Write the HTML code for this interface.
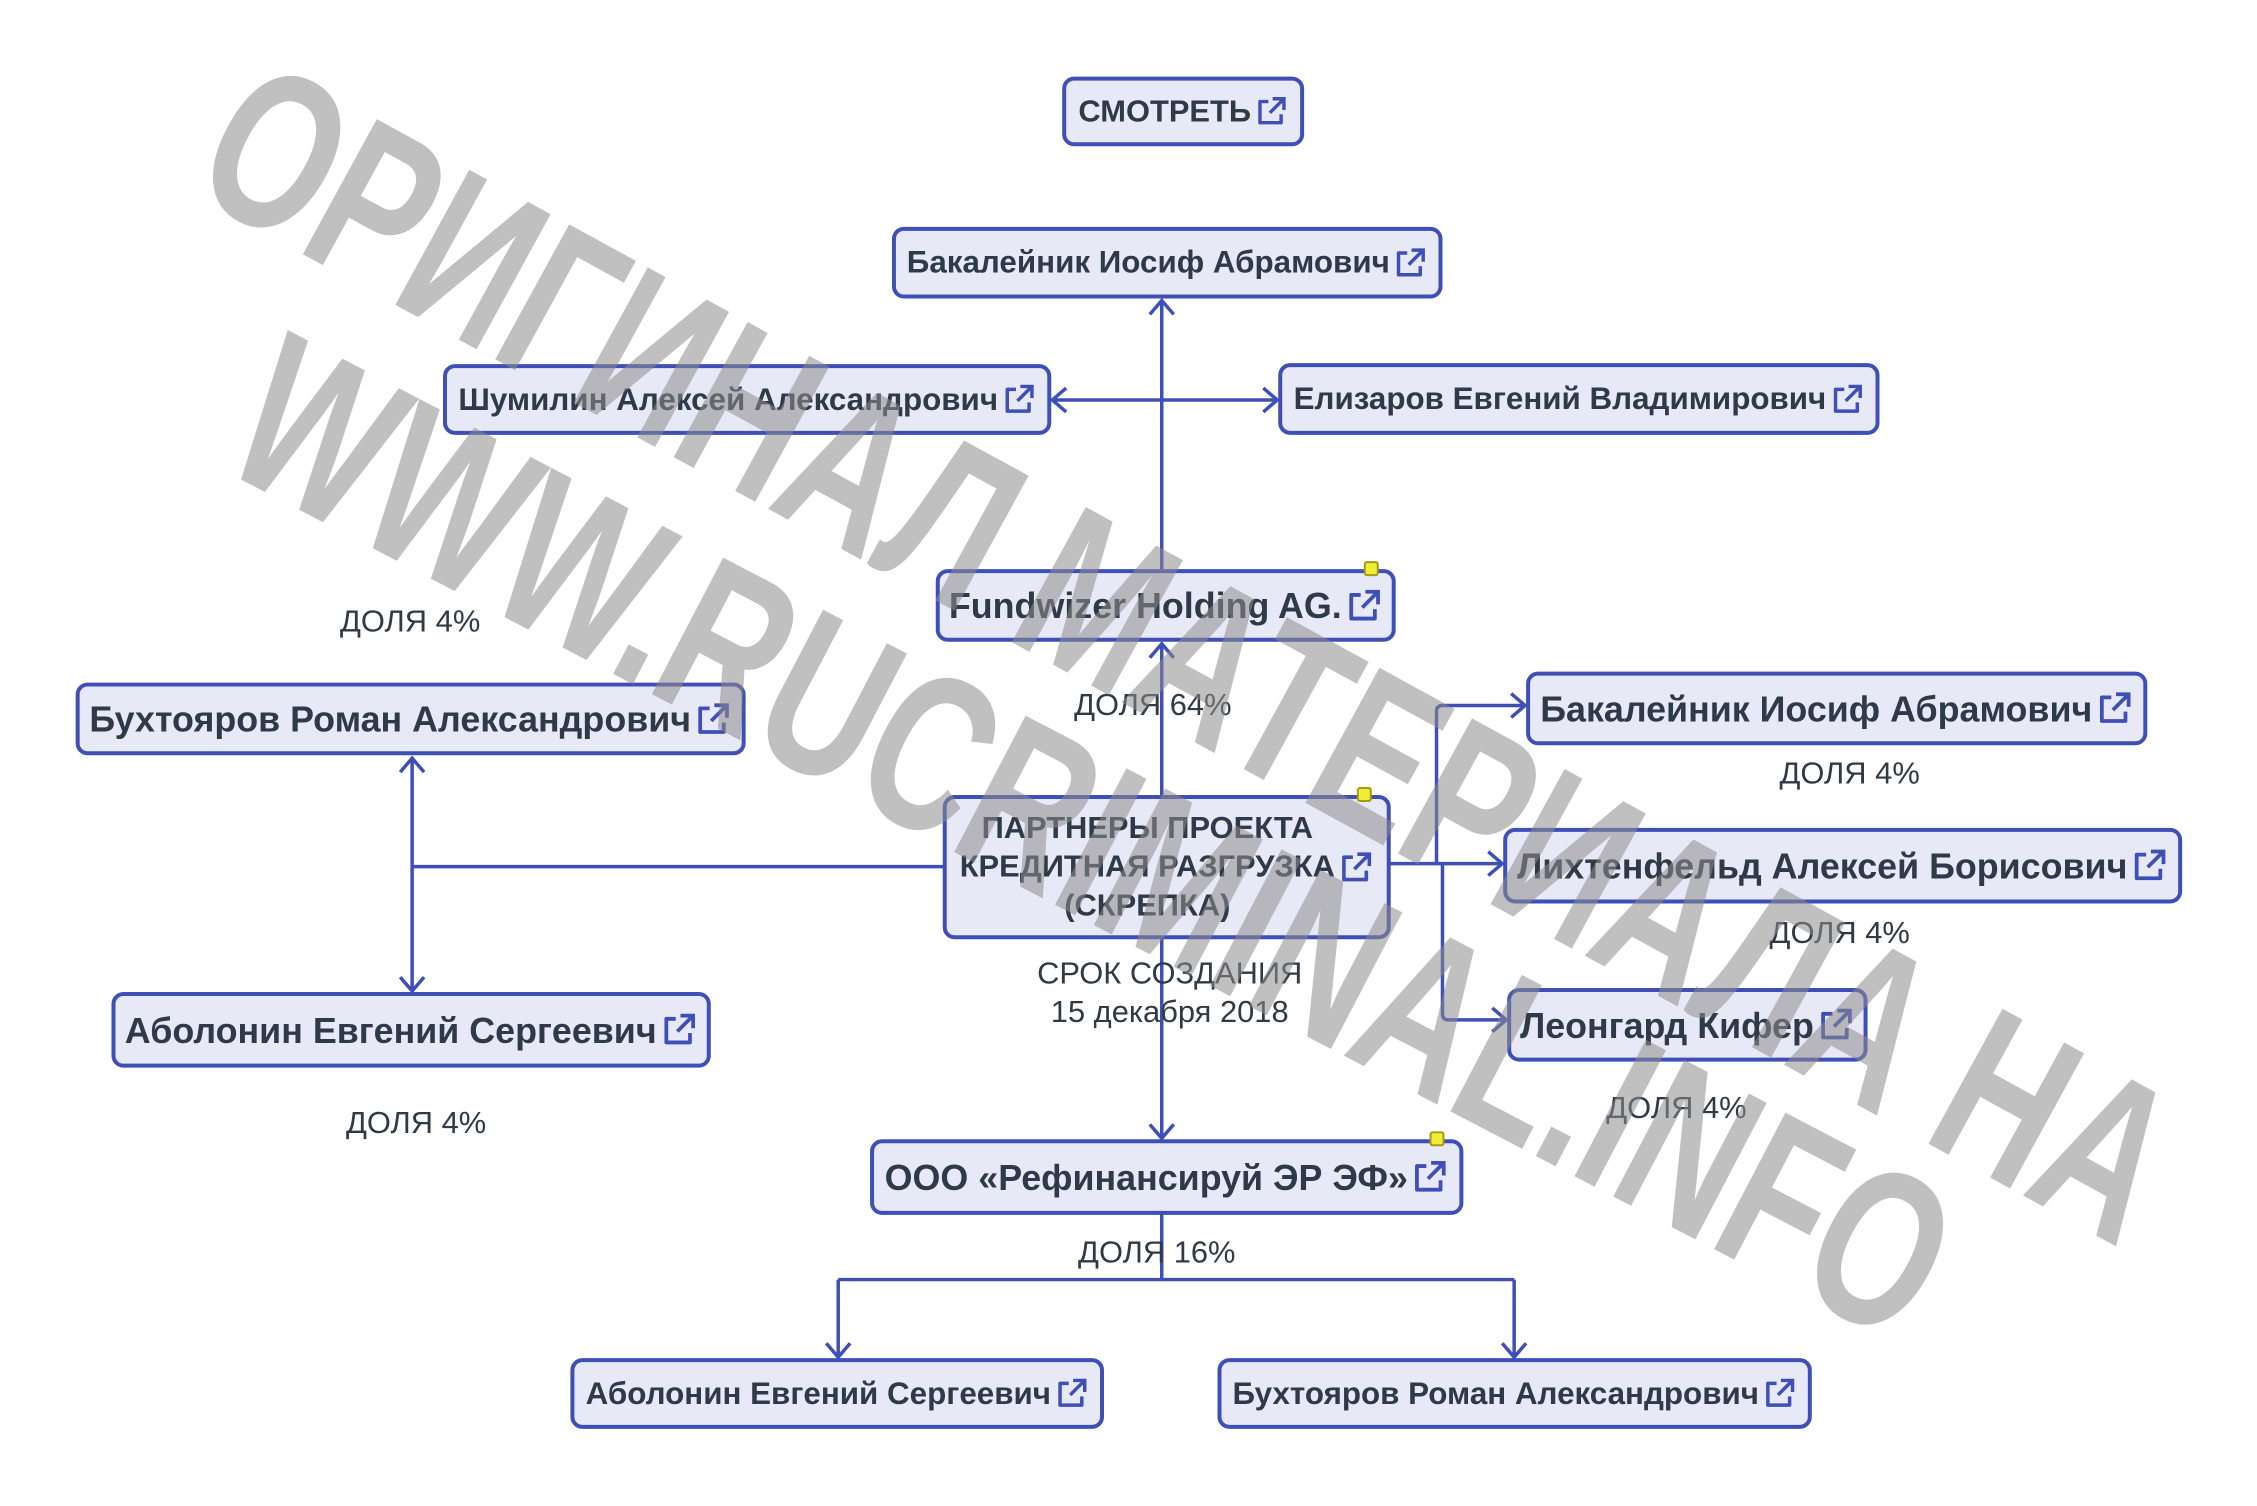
<!DOCTYPE html>
<html><head><meta charset="utf-8"><style>
body{margin:0;width:2257px;height:1506px;background:#fff;position:relative;overflow:hidden;font-family:"Liberation Sans","DejaVu Sans",sans-serif;}
#w{position:absolute;left:0;top:0;width:2257px;height:1506px;transform:scale(0.9955,0.995);transform-origin:0 0}
.n{position:absolute;box-sizing:border-box;border:4px solid #3f4fb8;border-radius:12px;background:#e8e9f6;display:flex;align-items:center;justify-content:center;font-weight:bold;color:#2e3a45;white-space:nowrap;text-align:center;line-height:1.25}
.n svg{margin-left:3px;flex:none}
.l{position:absolute;color:#2e3a45;font-size:31px;white-space:nowrap;transform:translate(-50%,-50%);text-align:center;line-height:1.25}
.m{position:absolute;width:15px;height:15px;background:#eeee3a;border:2px solid #a89a10;border-radius:3px;box-sizing:border-box}
</style></head><body><div id="w">
<svg width="0" height="0" style="position:absolute"><defs><symbol id="ic" viewBox="0 0 24 24"><path d="M10 5H4v15h15v-6" fill="none" stroke="#3f4fb8" stroke-width="2.4" stroke-linejoin="round"/><path d="M11 13L20 4M13 3h8v8" fill="none" stroke="#3f4fb8" stroke-width="2.4"/></symbol></defs></svg>

<svg style="position:absolute;left:0;top:0" width="2257" height="1506">
<g stroke="#3f4fb8" stroke-width="3.5" fill="none">
<path d="M1167 573V302M1167 402H1057M1167 402H1283"/>
<path d="M1155 316L1167 302L1179 316M1071 390L1057 402L1071 414M1269 390L1283 402L1269 414"/>
<path d="M1167 800V647M1155 661L1167 647L1179 661"/>
<path d="M1167 943V1144M1155 1130L1167 1144L1179 1130"/>
<path d="M948 871H414M414 762V996M402 776L414 762L426 776M402 982L414 996L426 982"/>
<path d="M1390 868H1509M1443 868V715Q1443 709 1449 709H1532M1449 868V1019Q1449 1025 1455 1025H1513"/>
<path d="M1518 697L1532 709L1518 721M1495 856L1509 868L1495 880M1499 1013L1513 1025L1499 1037"/>
<path d="M1167 1212V1286M842 1286H1521M842 1286V1364M1521 1286V1364M830 1350L842 1364L854 1350M1509 1350L1521 1364L1533 1350"/>
</g></svg>

<div class="n" style="left:1067px;top:77px;width:243px;height:70px;font-size:31px">СМОТРЕТЬ<svg width="34" height="34"><use href="#ic"/></svg></div>
<div class="n" style="left:896px;top:228px;width:553px;height:72px;font-size:31.5px">Бакалейник Иосиф Абрамович<svg width="35" height="35"><use href="#ic"/></svg></div>
<div class="n" style="left:445px;top:366px;width:611px;height:71px;font-size:31.5px">Шумилин Алексей Александрович<svg width="35" height="35"><use href="#ic"/></svg></div>
<div class="n" style="left:1284px;top:365px;width:604px;height:72px;font-size:31.5px">Елизаров Евгений Владимирович<svg width="35" height="35"><use href="#ic"/></svg></div>
<div class="n" style="left:940px;top:572px;width:462px;height:73px;font-size:36px">Fundwizer Holding AG.<svg width="38" height="38"><use href="#ic"/></svg></div>
<div class="m" style="left:1370px;top:564px"></div>
<div class="n" style="left:76px;top:686px;width:673px;height:73px;font-size:36px">Бухтояров Роман Александрович<svg width="38" height="38"><use href="#ic"/></svg></div>
<div class="n" style="left:1533px;top:675px;width:624px;height:74px;font-size:36px">Бакалейник Иосиф Абрамович<svg width="38" height="38"><use href="#ic"/></svg></div>
<div class="n" style="left:947px;top:799px;width:450px;height:145px;font-size:31px"><span>ПАРТНЕРЫ ПРОЕКТА<br>КРЕДИТНАЯ РАЗГРУЗКА<br>(СКРЕПКА)</span><svg width="36" height="36"><use href="#ic"/></svg></div>
<div class="m" style="left:1363px;top:791px"></div>
<div class="n" style="left:1510px;top:832px;width:682px;height:76px;font-size:36px">Лихтенфельд Алексей Борисович<svg width="38" height="38"><use href="#ic"/></svg></div>
<div class="n" style="left:1514px;top:993px;width:362px;height:74px;font-size:36px">Леонгард Кифер<svg width="38" height="38"><use href="#ic"/></svg></div>
<div class="n" style="left:112px;top:997px;width:602px;height:76px;font-size:36px">Аболонин Евгений Сергеевич<svg width="38" height="38"><use href="#ic"/></svg></div>
<div class="n" style="left:874px;top:1145px;width:596px;height:76px;font-size:36px">ООО «Рефинансируй ЭР ЭФ»<svg width="38" height="38"><use href="#ic"/></svg></div>
<div class="m" style="left:1436px;top:1137px"></div>
<div class="n" style="left:573px;top:1365px;width:536px;height:71px;font-size:31.5px">Аболонин Евгений Сергеевич<svg width="35" height="35"><use href="#ic"/></svg></div>
<div class="n" style="left:1223px;top:1365px;width:597px;height:71px;font-size:31.5px">Бухтояров Роман Александрович<svg width="35" height="35"><use href="#ic"/></svg></div>

<div class="l" style="left:412px;top:625px">ДОЛЯ 4%</div>
<div class="l" style="left:1158px;top:709px">ДОЛЯ 64%</div>
<div class="l" style="left:1858px;top:778px">ДОЛЯ 4%</div>
<div class="l" style="left:1848px;top:938px">ДОЛЯ 4%</div>
<div class="l" style="left:1684px;top:1114px">ДОЛЯ 4%</div>
<div class="l" style="left:418px;top:1129px">ДОЛЯ 4%</div>
<div class="l" style="left:1175px;top:998px">СРОК СОЗДАНИЯ<br>15 декабря 2018</div>
<div class="l" style="left:1162px;top:1259px">ДОЛЯ 16%</div>

<svg style="position:absolute;left:0;top:0" width="2257" height="1506">
<g fill="rgba(140,140,140,0.55)" font-family="Liberation Sans, sans-serif" font-weight="bold" font-size="225" text-anchor="middle" dominant-baseline="central">
<text x="1195" y="655" transform="rotate(28.7 1195 655)" textLength="2215" lengthAdjust="spacingAndGlyphs">ОРИГИНАЛ МАТЕРИАЛА НА</text>
<text x="1098" y="842" transform="rotate(27.6 1098 842)" textLength="1907" lengthAdjust="spacingAndGlyphs">WWW.RUCRIMINAL.INFO</text>
</g></svg>
</div></body></html>
